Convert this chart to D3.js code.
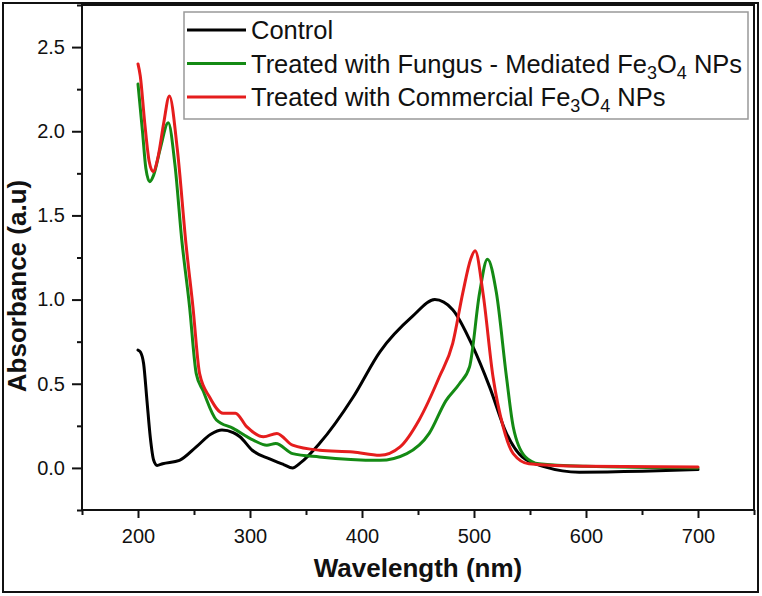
<!DOCTYPE html>
<html>
<head>
<meta charset="utf-8">
<script src="https://cdn.jsdelivr.net/npm/d3@7"></script>
<style>
  body { margin: 0; background: #fff; }
  svg { display: block; font-family: "Liberation Sans", Arial, sans-serif; }
</style>
</head>
<body>
<svg width="762" height="596"></svg>
<script>
// wavelength (nm) / absorbance
const controlWl = [200, 202, 205, 208, 211, 214, 217, 222, 237, 252, 265, 275, 285, 291, 302, 317, 330, 338, 345, 362, 392, 416, 445, 465, 481, 499, 514, 529, 543, 564, 594, 650, 700];
const controlAbs = [0.70, 0.69, 0.62, 0.40, 0.18, 0.045, 0.015, 0.025, 0.045, 0.125, 0.20, 0.225, 0.21, 0.185, 0.105, 0.055, 0.02, 0.0, 0.03, 0.145, 0.42, 0.69, 0.90, 1.0, 0.94, 0.72, 0.48, 0.205, 0.065, 0.005, -0.025, -0.02, -0.01];

const fungusWl = [200, 204, 207, 210.5, 214, 220, 227, 233, 239, 246, 252, 258, 270, 285, 303, 315, 323, 338, 362, 416, 440, 460, 475, 487, 496, 505, 512, 520, 529, 535, 546, 558, 600, 700];
const fungusAbs = [2.28, 2.0, 1.78, 1.70, 1.74, 1.90, 2.05, 1.80, 1.36, 0.96, 0.56, 0.46, 0.285, 0.235, 0.165, 0.135, 0.145, 0.085, 0.065, 0.045, 0.085, 0.205, 0.40, 0.50, 0.60, 1.04, 1.24, 1.04, 0.54, 0.245, 0.065, 0.025, 0.01, 0.0];

const commercialWl = [200, 202, 206, 210, 213.5, 218, 223, 228, 235, 243, 249, 255, 264, 276, 287, 297, 312, 324, 338, 362, 392, 416, 434, 451, 469, 481, 490, 497, 501, 508, 517, 526, 535, 549, 600, 700];
const commercialAbs = [2.40, 2.33, 2.05, 1.82, 1.76, 1.85, 2.05, 2.21, 1.90, 1.32, 0.96, 0.56, 0.42, 0.325, 0.325, 0.245, 0.185, 0.205, 0.135, 0.105, 0.095, 0.075, 0.125, 0.285, 0.54, 0.74, 1.04, 1.24, 1.29, 1.04, 0.54, 0.245, 0.085, 0.025, 0.01, 0.005];

const xTicks = [200, 300, 400, 500, 600, 700];
const yTicks = [0.0, 0.5, 1.0, 1.5, 2.0, 2.5];

const series = [
  {name: "Control", wl: controlWl, abs: controlAbs, color: "#000000"},
  {name: "fungus", wl: fungusWl, abs: fungusAbs, color: "#148a14"},
  {name: "commercial", wl: commercialWl, abs: commercialAbs, color: "#e51d1d"}
];

const svg = d3.select("svg");
const plot = {left: 82, right: 754, top: 5, bottom: 510};

const x = d3.scaleLinear().domain([150, 750]).range([plot.left, plot.right]);
const y = d3.scaleLinear().domain([-0.25, 2.75]).range([plot.bottom, plot.top]);

// outer frame
svg.append("rect")
  .attr("x", 3).attr("y", 3)
  .attr("width", 755).attr("height", 589)
  .attr("fill", "none").attr("stroke", "#111").attr("stroke-width", 2);

// curves
const line = d3.line()
  .x(d => x(d[0]))
  .y(d => y(d[1]))
  .curve(d3.curveMonotoneX);

svg.append("g")
  .selectAll("path")
  .data(series)
  .join("path")
  .attr("d", s => line(s.wl.map((w, i) => [w, s.abs[i]])))
  .attr("fill", "none")
  .attr("stroke", s => s.color)
  .attr("stroke-width", 3)
  .attr("stroke-linejoin", "round")
  .attr("stroke-linecap", "round");

// box
svg.append("rect")
  .attr("x", plot.left).attr("y", plot.top)
  .attr("width", plot.right - plot.left).attr("height", plot.bottom - plot.top)
  .attr("fill", "none").attr("stroke", "#111").attr("stroke-width", 2);

// bottom axis
const xAxis = svg.append("g")
  .attr("transform", `translate(0,${plot.bottom})`)
  .call(d3.axisBottom(x).tickValues(xTicks).tickFormat(d3.format("d")).tickSize(8).tickPadding(11));
xAxis.append("g")
  .call(d3.axisBottom(x).tickValues(d3.range(150, 751, 100)).tickFormat("").tickSize(5));

// left axis
const yAxis = svg.append("g")
  .attr("transform", `translate(${plot.left},0)`)
  .call(d3.axisLeft(y).tickValues(yTicks).tickFormat(d3.format(".1f")).tickSize(10).tickPadding(7));
yAxis.append("g")
  .call(d3.axisLeft(y).tickValues(d3.range(-0.25, 2.76, 0.5)).tickFormat("").tickSize(5));

svg.selectAll(".domain").remove();
svg.selectAll(".tick line").attr("stroke", "#111").attr("stroke-width", 2);
svg.selectAll(".tick text")
  .attr("font-size", 20)
  .attr("font-family", "Liberation Sans, Arial, sans-serif")
  .attr("fill", "#111");

// axis titles
svg.append("text")
  .attr("x", (plot.left + plot.right) / 2)
  .attr("y", 577)
  .attr("text-anchor", "middle")
  .attr("font-size", 26)
  .attr("font-weight", "bold")
  .attr("fill", "#111")
  .text("Wavelength (nm)");

svg.append("text")
  .attr("transform", "translate(26,286) rotate(-90)")
  .attr("text-anchor", "middle")
  .attr("font-size", 26)
  .attr("font-weight", "bold")
  .attr("fill", "#111")
  .text("Absorbance (a.u)");

// legend
const legend = svg.append("g");
legend.append("rect")
  .attr("x", 184).attr("y", 12)
  .attr("width", 564).attr("height", 107)
  .attr("fill", "#fff").attr("stroke", "#999").attr("stroke-width", 1.5);

const rows = legend.selectAll("g.row")
  .data(series)
  .join("g")
  .attr("class", "row")
  .attr("transform", (d, i) => `translate(0,${30 + i * 33.5})`);

rows.append("line")
  .attr("x1", 187).attr("x2", 246)
  .attr("stroke", d => d.color).attr("stroke-width", 3);

const labels = rows.append("text")
  .attr("x", 251)
  .attr("y", 9)
  .attr("font-size", 25.5)
  .attr("fill", "#111");

labels.each(function(d) {
  const t = d3.select(this);
  if (d.name === "Control") {
    t.text("Control");
    return;
  }
  const pre = d.name === "fungus" ? "Treated with Fungus - Mediated Fe" : "Treated with Commercial Fe";
  t.append("tspan").text(pre);
  t.append("tspan").attr("font-size", 18).attr("dy", 6).text("3");
  t.append("tspan").attr("dy", -6).text("O");
  t.append("tspan").attr("font-size", 18).attr("dy", 6).text("4");
  t.append("tspan").attr("dy", -6).text(" NPs");
});
</script>
</body>
</html>
